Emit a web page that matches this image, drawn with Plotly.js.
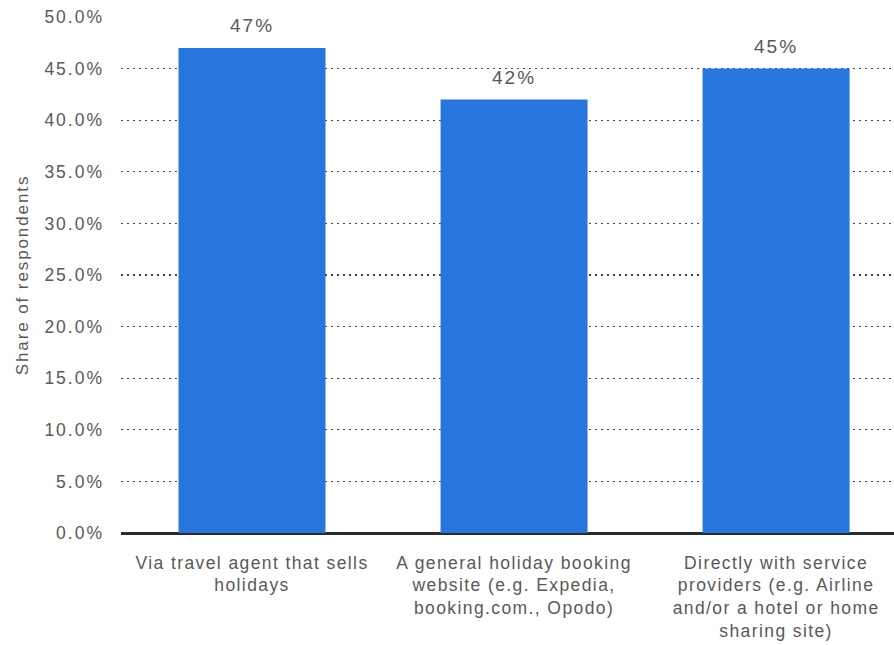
<!DOCTYPE html>
<html>
<head>
<meta charset="utf-8">
<script src="https://cdn.plot.ly/plotly-3.0.1.min.js"></script>
<style>
html,body{margin:0;padding:0;background:#fff;}
#chart{width:894px;height:645px;}
#chart .xtick text{letter-spacing:1.4px;}
#chart .ytick text{letter-spacing:2px;}
#chart .g-ytitle text{letter-spacing:1.9px;}
#chart .annotation-text-g text{letter-spacing:2px;}
</style>
</head>
<body>
<div id="chart"></div>
<script>
const categories = [
  "Via travel agent that sells<br>holidays",
  "A general holiday booking<br>website (e.g. Expedia,<br>booking.com., Opodo)",
  "Directly with service<br>providers (e.g. Airline<br>and/or a hotel or home<br>sharing site)"
];
const values = [47, 42, 45];
const valueLabels = ["47%", "42%", "45%"];
const yTickVals = [0, 5, 10, 15, 20, 25, 30, 35, 40, 45, 50];
const yTickText = ["0.0%", "5.0%", "10.0%", "15.0%", "20.0%", "25.0%", "30.0%", "35.0%", "40.0%", "45.0%", "50.0%"];

const font = "Liberation Sans, Arial, sans-serif";
const textColor = "#595959";
const xs = categories.map((c, i) => i);
const trace = {
  type: "bar",
  x: xs,
  y: values,
  marker: {color: "#2876dd"},
  width: 0.561,
  hoverinfo: "none"
};
const annotations = values.map((v, i) => ({
  x: xs[i], y: v, xref: "x", yref: "y",
  text: valueLabels[i],
  showarrow: false,
  yanchor: "bottom",
  yshift: 10,
  font: {family: font, size: 19, color: textColor}
}));
const layout = {
  width: 894, height: 645,
  margin: {l: 121, r: 0, t: 17, b: 112},
  paper_bgcolor: "#ffffff", plot_bgcolor: "#ffffff",
  showlegend: false,
  font: {family: font, size: 17, color: textColor},
  annotations: annotations,
  xaxis: {
    range: [-0.5, 2.45],
    tickvals: xs,
    ticktext: categories,
    showgrid: false,
    zeroline: false,
    showline: false,
    ticks: "",
    ticklabelstandoff: 17,
    tickfont: {family: font, size: 17.5, color: textColor},
    fixedrange: true
  },
  yaxis: {
    range: [0, 50],
    tickvals: yTickVals,
    ticktext: yTickText,
    showgrid: true,
    gridcolor: "#444444",
    griddash: "1.5px,4.5px",
    gridwidth: 1.2,
    zeroline: true,
    zerolinecolor: "#2b2b2b",
    zerolinewidth: 3,
    ticks: "",
    ticklabelstandoff: 16,
    tickfont: {family: font, size: 17.5, color: textColor},
    title: {text: "Share of respondents", font: {family: font, size: 17, color: textColor}, standoff: 21},
    fixedrange: true
  }
};
Plotly.newPlot("chart", [trace], layout, {displayModeBar: false, staticPlot: true});
</script>
</body>
</html>
